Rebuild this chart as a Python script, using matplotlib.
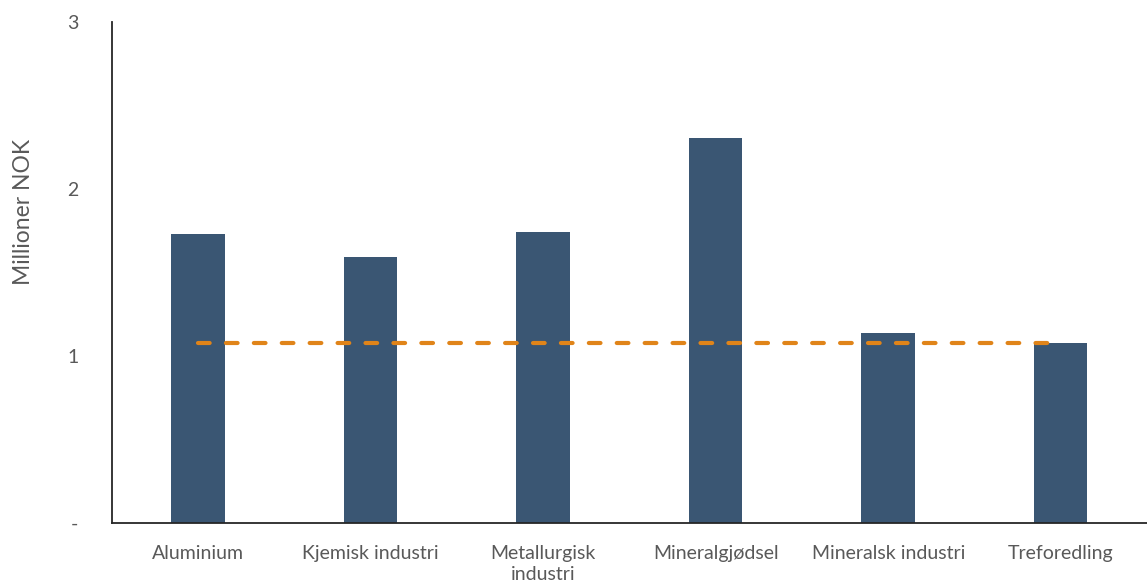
import matplotlib
matplotlib.use("Agg")
import matplotlib.pyplot as plt
import numpy as np

# Sector values (million NOK) and the common reference level
sectors = ["Aluminium", "Kjemisk industri", "Metallurgisk\nindustri",
           "Mineralgjødsel", "Mineralsk industri", "Treforedling"]
values = [1.73, 1.595, 1.74, 2.305, 1.14, 1.075]
reference = [1.08, 1.08, 1.08, 1.08, 1.08, 1.08]
ytick_vals = [0, 1, 2, 3]
ytick_labels = ["-", "1", "2", "3"]

plt.rcParams["font.family"] = ["Lato", "DejaVu Sans"]

fig = plt.figure(figsize=(11.47, 5.86), dpi=100)
ax = fig.add_axes([0.0976, 0.1075, 0.9024, 0.855])

x = np.arange(len(sectors))
ax.bar(x, values, width=0.31, color="#3a5673", zorder=2)
ax.plot(x, reference, color="#e08419", lw=3.0, dashes=(2.8, 3.9),
        dash_capstyle="round", zorder=3)

ax.set_xlim(-0.5, len(sectors) - 0.5)
ax.set_ylim(0, 3)
ax.set_yticks(ytick_vals)
ax.set_yticklabels(ytick_labels)
ax.set_yticks([3], minor=True)
ax.set_xticks(x)
ax.set_xticklabels(sectors, linespacing=1.25)

ax.tick_params(axis="both", which="major", length=0, labelsize=14,
               labelcolor="#595959")
ax.tick_params(axis="y", which="major", pad=24)
ax.tick_params(axis="x", which="major", pad=16)
ax.tick_params(axis="y", which="minor", direction="in", length=6,
               width=1.3, color="#262626")

for side in ["top", "right"]:
    ax.spines[side].set_visible(False)
for side in ["left", "bottom"]:
    ax.spines[side].set_color("#262626")
    ax.spines[side].set_linewidth(1.3)

ax.set_ylabel("Millioner NOK", fontsize=16.5, color="#595959")
ax.yaxis.set_label_coords(-0.075, 0.62)

fig.savefig("out.png", dpi=100)
